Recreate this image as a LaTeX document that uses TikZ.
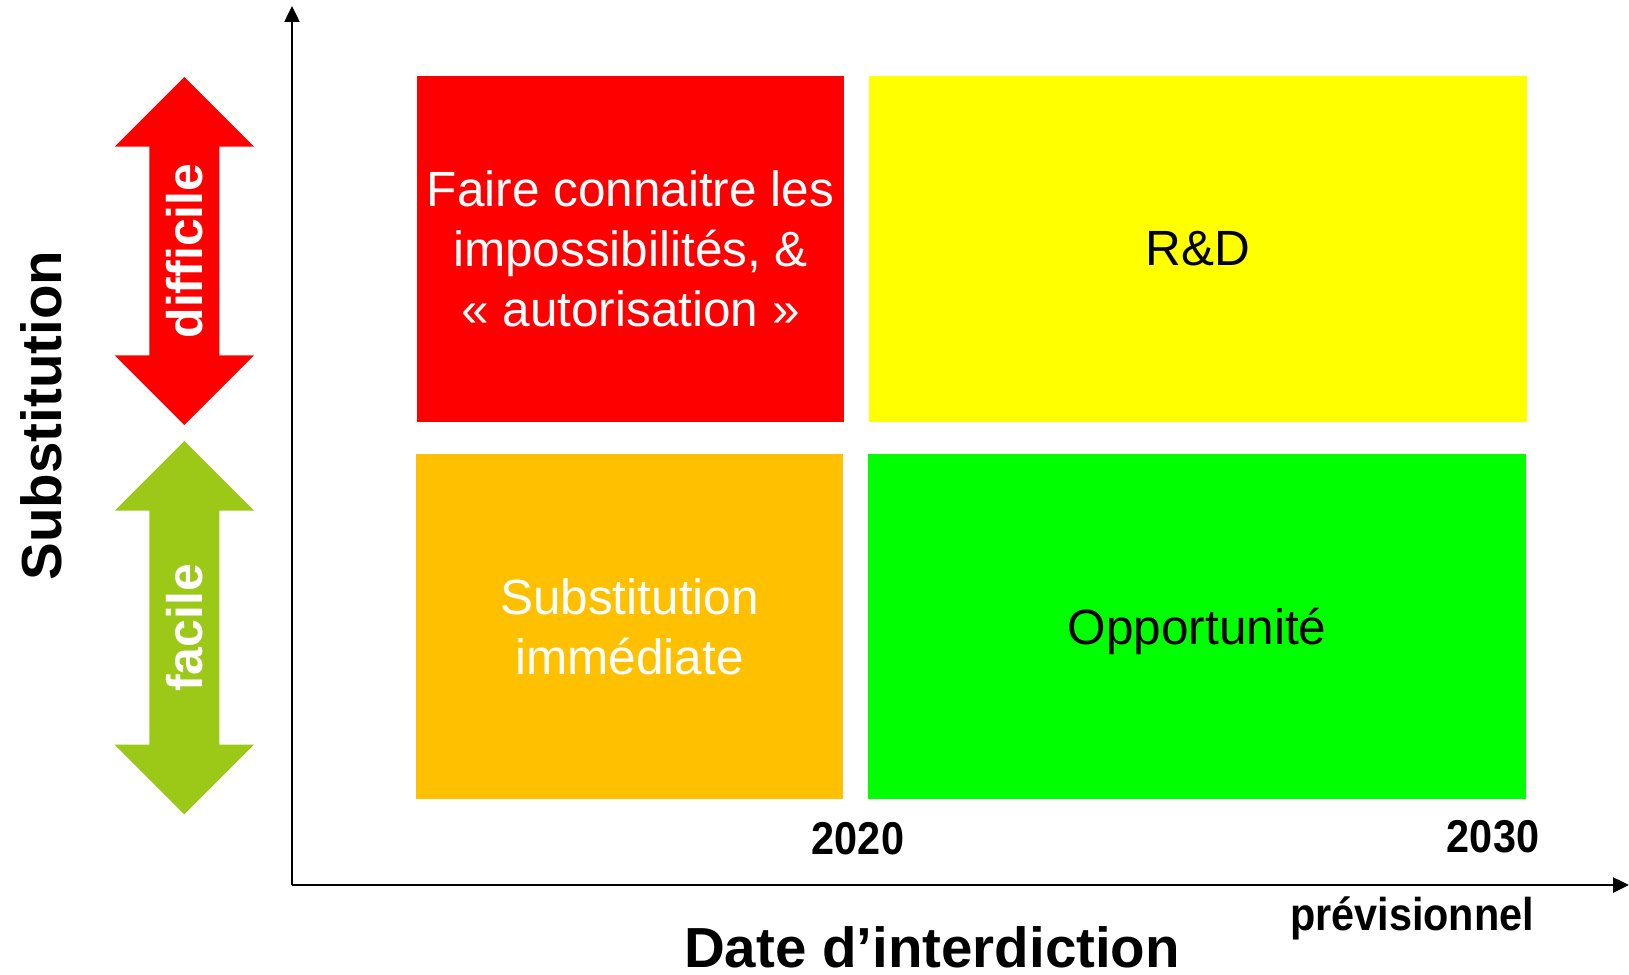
\documentclass[tikz,border=0pt]{standalone}
\usepackage{fontspec}
\setmainfont{Liberation Sans}
\newfontfamily\narrowbold{Liberation Sans Bold}[FakeStretch=0.9]
\usetikzlibrary{arrows.meta}
\definecolor{cred}{HTML}{FF0000}
\definecolor{cyellow}{HTML}{FFFF00}
\definecolor{corange}{HTML}{FFC000}
\definecolor{cgreen}{HTML}{00FF00}
\definecolor{cleaf}{HTML}{9CC917}
\begin{document}
\begin{tikzpicture}[x=1pt,y=-1pt,
  quad/.style={inner sep=0pt, outer sep=0pt, align=center,
    font=\fontsize{49.5}{60}\selectfont},
  axisline/.style={line width=2.5pt, -{Triangle[length=16pt,width=15pt]}},
  ticklabel/.style={anchor=base, inner sep=0pt, font=\narrowbold\fontsize{46}{50}\selectfont},
  axistitle/.style={inner sep=0pt, font=\bfseries\fontsize{56.5}{60}\selectfont},
  arrowlabel/.style={inner sep=0pt, rotate=90, text=white,
    font=\bfseries\fontsize{50}{50}\selectfont}]
\useasboundingbox (0,0) rectangle (1629,974);

% double arrows: difficult / easy
\newcommand\dblarrow[3]{%
  \fill[#1] (184.3,#2) -- (254,#2+69.7) -- (219.3,#2+69.7) -- (219.3,#3-69.7)
    -- (254,#3-69.7) -- (184.3,#3) -- (114.6,#3-69.7) -- (149.3,#3-69.7)
    -- (149.3,#2+69.7) -- (114.6,#2+69.7) -- cycle;}
\dblarrow{cred}{77}{425}
\dblarrow{cleaf}{441}{814.3}
\node[arrowlabel] (hard) at (185,251) {difficile};
\node[arrowlabel] (easy) at (185,628) {facile};

% the four quadrants
\node[quad, fill=cred, text=white, minimum width=427, minimum height=346]
  (q1) at (630.5,249) {Faire connaitre les\\impossibilités, \&\\« autorisation »};
\node[quad, fill=cyellow, text=black, minimum width=658, minimum height=346]
  (q2) at (1198,249) {R\&D};
\node[quad, fill=corange, text=white, minimum width=427, minimum height=345]
  (q3) at (629.5,626.5) {Substitution\\immédiate};
\node[quad, fill=cgreen, text=black, text depth=0pt, minimum width=658, minimum height=345]
  (q4) at (1197,626.5) {Opportunité};

% axes
\coordinate (origin) at (292,885);
\coordinate (ytip) at (292,6);
\coordinate (xtip) at (1629,885);
\draw[axisline] (origin) -- (ytip);
\draw[axisline] (origin) -- (xtip);

% axis labels
\node[ticklabel] (t2020) at (858,854) {2020};
\node[ticklabel] (t2030) at (1493,852) {2030};
\node[ticklabel] (prev) at (1412,930) {prévisionnel};
\node[axistitle, anchor=base] (xlabel) at (932,967) {Date d’interdiction};
\node[axistitle, rotate=90] (ylabel) at (41.5,415.6) {Substitution};
\end{tikzpicture}
\end{document}
